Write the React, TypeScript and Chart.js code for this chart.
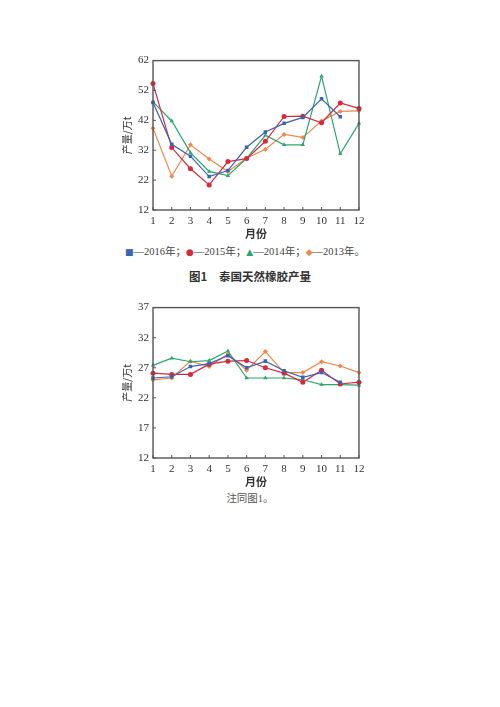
import { useEffect, useRef } from "react";
import { Chart, registerables } from "chart.js";

Chart.register(...registerables);

const months = ["1", "2", "3", "4", "5", "6", "7", "8", "9", "10", "11", "12"];
const seriesNames = ["2016年", "2015年", "2014年", "2013年"];

// 图1 产量
const output2016 = [48, 34, 30, 23.2, 25.2, 33, 38.1, 41, 43, 49.2, 43.2, null];
const output2015 = [54.3, 32.9, 25.8, 20.4, 28.2, 29.2, 35, 43.3, 43.4, 41.2, 47.8, 46];
const output2014 = [48.2, 41.8, 31.2, 24.9, 23.5, 29.3, 37, 33.8, 33.8, 56.8, 30.8, 41];
const output2013 = [39.4, 23.3, 33.8, 29.1, 24.9, 29.3, 32.3, 37.3, 36.3, 41.8, 45, 45.2];

// 第二幅图
const second2016 = [25.3, 25.5, 27.2, 27.7, 29, 27, 28.1, 26.5, 25.4, 26.2, 24.6, null];
const second2015 = [26.1, 25.9, 25.9, 27.6, 28.1, 28.2, 27, 26.1, 24.6, 26.6, 24.3, 24.6];
const second2014 = [27.4, 28.6, 28, 28.2, 29.8, 25.3, 25.3, 25.3, 25, 24.2, 24.2, 24.1];
const second2013 = [25, 25.3, 28.1, 27.2, 29.3, 26.6, 29.7, 26.2, 26.2, 28, 27.3, 26.2];

const colors = ["#3b63b5", "#d8283c", "#2ea56b", "#f0874a"];
const markers = ["rect", "circle", "triangle", "rectRot"];

const serif = "'Liberation Serif', 'Noto Sans CJK SC', serif";

// frame round the plot and small ticks pointing inwards
const framePlugin = {
  id: "frame",
  afterDraw(chart: any) {
    const { ctx, chartArea: a, scales } = chart;
    ctx.save();
    ctx.strokeStyle = "#555";
    ctx.lineWidth = 1;
    scales.x.ticks.forEach((_: any, i: number) => {
      const px = scales.x.getPixelForTick(i);
      ctx.beginPath();
      ctx.moveTo(px, a.bottom);
      ctx.lineTo(px, a.bottom - 3);
      ctx.stroke();
    });
    scales.y.ticks.forEach((_: any, i: number) => {
      const py = scales.y.getPixelForTick(i);
      ctx.beginPath();
      ctx.moveTo(a.left, py);
      ctx.lineTo(a.left + 3, py);
      ctx.stroke();
    });
    ctx.lineWidth = 1.4;
    ctx.strokeRect(a.left, a.top, a.right - a.left, a.bottom - a.top);
    ctx.restore();
  },
};

interface LineChartProps {
  data: (number | null)[][];
  yMin: number;
  yMax: number;
  step: number;
  height: number;
}

const LineChart = ({ data, yMin, yMax, step, height }: LineChartProps) => {
  const chartRef = useRef<HTMLCanvasElement>(null);

  useEffect(() => {
    if (!chartRef.current) return;
    const chart = new Chart(chartRef.current, {
      type: "line",
      data: {
        labels: months,
        datasets: data.map((values, i) => ({
          label: seriesNames[i],
          data: values,
          borderColor: colors[i],
          backgroundColor: colors[i],
          borderWidth: 1.2,
          pointStyle: markers[i] as any,
          pointRadius: 2.5,
          pointBorderWidth: 0,
          tension: 0,
        })),
      },
      options: {
        responsive: false,
        animation: false,
        layout: { padding: { top: 10, right: 11, left: 0, bottom: 0 } },
        plugins: { legend: { display: false }, tooltip: { enabled: false } },
        scales: {
          x: {
            grid: { display: false, drawTicks: false },
            border: { display: false },
            ticks: { color: "#333", padding: 5, font: { family: serif, size: 11 } },
            title: {
              display: true,
              text: "月份",
              color: "#333",
              padding: { top: 0, bottom: 0 },
              font: { family: "'Noto Sans CJK SC', sans-serif", size: 11, weight: "bold" },
            },
            afterFit: (s: any) => {
              s.height = 30;
            },
          },
          y: {
            min: yMin,
            max: yMax,
            grid: { display: false, drawTicks: false },
            border: { display: false },
            ticks: { stepSize: step, color: "#333", padding: 4, font: { family: serif, size: 11 } },
            title: {
              display: true,
              text: "产量/万t",
              color: "#333",
              padding: { top: 3, bottom: 0 },
              font: { family: "'Noto Sans CJK SC', sans-serif", size: 10 },
            },
            afterFit: (s: any) => {
              s.width = 35;
            },
          },
        },
      },
      plugins: [framePlugin],
    });
    return () => chart.destroy();
  }, [data, yMin, yMax, step]);

  return <canvas ref={chartRef} width={252} height={height} />;
};

const legendItem = (i: number, symbol: string, end: string) => (
  <span>
    <span style={{ color: colors[i], fontFamily: "'DejaVu Sans', sans-serif", fontSize: 9 }}>{symbol}</span>
    —{seriesNames[i]}
    {end}
  </span>
);

export default function App() {
  return (
    <div
      style={{
        position: "absolute",
        left: 0,
        top: 0,
        width: 500,
        height: 707,
        background: "#fff",
        fontFamily: serif,
      }}
    >
      <div style={{ position: "absolute", left: 118, top: 50 }}>
        <LineChart data={[output2016, output2015, output2014, output2013]} yMin={12} yMax={62} step={10} height={190} />
      </div>
      <div
        style={{
          position: "absolute",
          left: 120,
          width: 250,
          top: 243,
          textAlign: "center",
          fontSize: 10.5,
          color: "#444",
          whiteSpace: "nowrap",
        }}
      >
        {legendItem(0, "■", "；")}
        {legendItem(1, "●", "；")}
        {legendItem(2, "▲", "；")}
        {legendItem(3, "◆", "。")}
      </div>
      <div
        style={{
          position: "absolute",
          left: 0,
          width: 500,
          top: 268,
          textAlign: "center",
          fontSize: 11.5,
          fontWeight: "bold",
          color: "#333",
          fontFamily: "'Noto Sans CJK SC', sans-serif",
        }}
      >
        图1　泰国天然橡胶产量
      </div>
      <div style={{ position: "absolute", left: 118, top: 297 }}>
        <LineChart data={[second2016, second2015, second2014, second2013]} yMin={12} yMax={37} step={5} height={191} />
      </div>
      <div
        style={{
          position: "absolute",
          left: 100,
          width: 300,
          top: 490,
          textAlign: "center",
          fontSize: 10.5,
          color: "#555",
        }}
      >
        注同图1。
      </div>
    </div>
  );
}
